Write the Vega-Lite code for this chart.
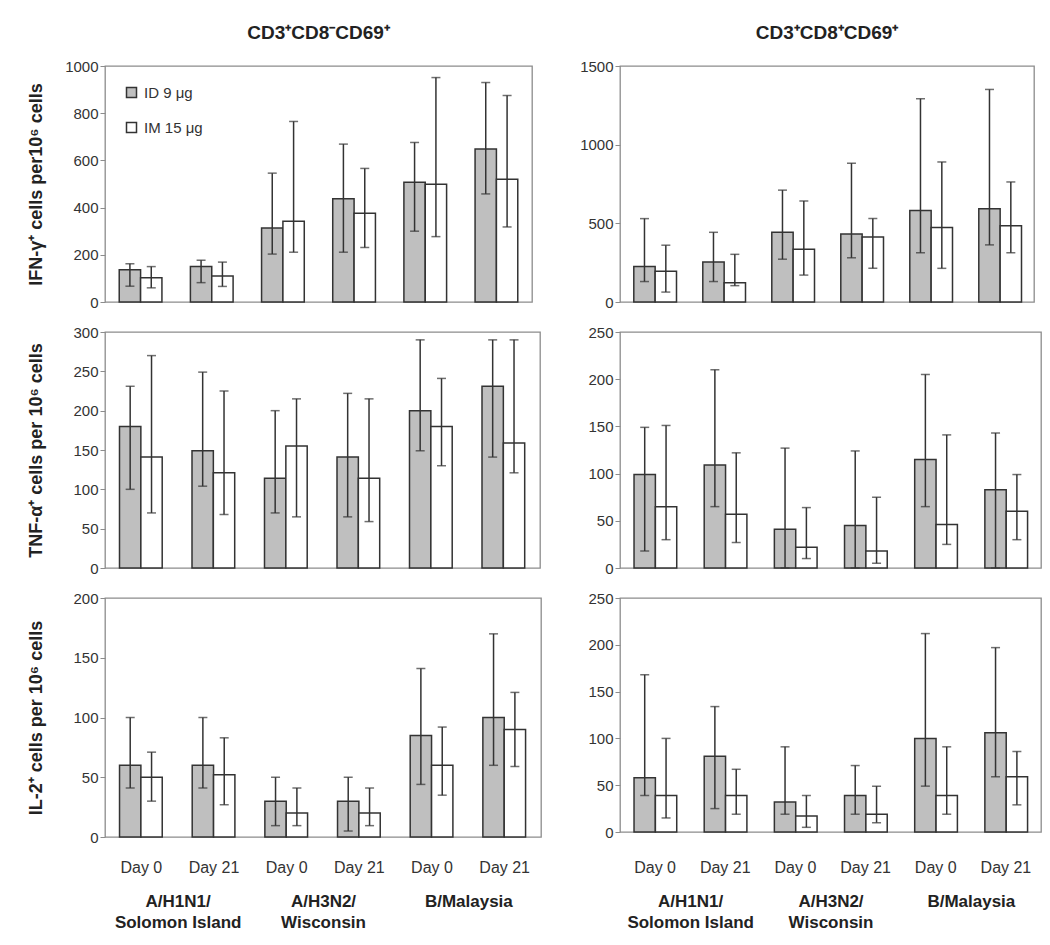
{
  "$schema": "https://vega.github.io/schema/vega-lite/v6.json",
  "padding": {"top": 23, "left": 26, "right": 5, "bottom": 5},
  "background": "#ffffff",
  "data": {"values": [
    {"panel":"IFN_L","strain":"A/H1N1/|Solomon Island","cat":"H1N1 Day 0","day":"Day 0","grp":"ID 9 μg","val":137,"lo":67,"hi":162},
    {"panel":"IFN_L","strain":"A/H1N1/|Solomon Island","cat":"H1N1 Day 0","day":"Day 0","grp":"IM 15 μg","val":103,"lo":60,"hi":150},
    {"panel":"IFN_L","strain":"A/H1N1/|Solomon Island","cat":"H1N1 Day 21","day":"Day 21","grp":"ID 9 μg","val":150,"lo":82,"hi":177},
    {"panel":"IFN_L","strain":"A/H1N1/|Solomon Island","cat":"H1N1 Day 21","day":"Day 21","grp":"IM 15 μg","val":110,"lo":66,"hi":169},
    {"panel":"IFN_L","strain":"A/H3N2/|Wisconsin","cat":"H3N2 Day 0","day":"Day 0","grp":"ID 9 μg","val":314,"lo":203,"hi":546},
    {"panel":"IFN_L","strain":"A/H3N2/|Wisconsin","cat":"H3N2 Day 0","day":"Day 0","grp":"IM 15 μg","val":342,"lo":211,"hi":765},
    {"panel":"IFN_L","strain":"A/H3N2/|Wisconsin","cat":"H3N2 Day 21","day":"Day 21","grp":"ID 9 μg","val":437,"lo":211,"hi":669},
    {"panel":"IFN_L","strain":"A/H3N2/|Wisconsin","cat":"H3N2 Day 21","day":"Day 21","grp":"IM 15 μg","val":376,"lo":231,"hi":566},
    {"panel":"IFN_L","strain":"B/Malaysia","cat":"B Day 0","day":"Day 0","grp":"ID 9 μg","val":507,"lo":300,"hi":676},
    {"panel":"IFN_L","strain":"B/Malaysia","cat":"B Day 0","day":"Day 0","grp":"IM 15 μg","val":499,"lo":277,"hi":951},
    {"panel":"IFN_L","strain":"B/Malaysia","cat":"B Day 21","day":"Day 21","grp":"ID 9 μg","val":648,"lo":458,"hi":930},
    {"panel":"IFN_L","strain":"B/Malaysia","cat":"B Day 21","day":"Day 21","grp":"IM 15 μg","val":520,"lo":318,"hi":875},

    {"panel":"IFN_R","strain":"A/H1N1/|Solomon Island","cat":"H1N1 Day 0","day":"Day 0","grp":"ID 9 μg","val":225,"lo":130,"hi":530},
    {"panel":"IFN_R","strain":"A/H1N1/|Solomon Island","cat":"H1N1 Day 0","day":"Day 0","grp":"IM 15 μg","val":195,"lo":63,"hi":361},
    {"panel":"IFN_R","strain":"A/H1N1/|Solomon Island","cat":"H1N1 Day 21","day":"Day 21","grp":"ID 9 μg","val":255,"lo":130,"hi":443},
    {"panel":"IFN_R","strain":"A/H1N1/|Solomon Island","cat":"H1N1 Day 21","day":"Day 21","grp":"IM 15 μg","val":123,"lo":104,"hi":303},
    {"panel":"IFN_R","strain":"A/H3N2/|Wisconsin","cat":"H3N2 Day 0","day":"Day 0","grp":"ID 9 μg","val":443,"lo":272,"hi":711},
    {"panel":"IFN_R","strain":"A/H3N2/|Wisconsin","cat":"H3N2 Day 0","day":"Day 0","grp":"IM 15 μg","val":335,"lo":171,"hi":642},
    {"panel":"IFN_R","strain":"A/H3N2/|Wisconsin","cat":"H3N2 Day 21","day":"Day 21","grp":"ID 9 μg","val":432,"lo":281,"hi":882},
    {"panel":"IFN_R","strain":"A/H3N2/|Wisconsin","cat":"H3N2 Day 21","day":"Day 21","grp":"IM 15 μg","val":413,"lo":214,"hi":530},
    {"panel":"IFN_R","strain":"B/Malaysia","cat":"B Day 0","day":"Day 0","grp":"ID 9 μg","val":581,"lo":313,"hi":1292},
    {"panel":"IFN_R","strain":"B/Malaysia","cat":"B Day 0","day":"Day 0","grp":"IM 15 μg","val":473,"lo":214,"hi":890},
    {"panel":"IFN_R","strain":"B/Malaysia","cat":"B Day 21","day":"Day 21","grp":"ID 9 μg","val":592,"lo":363,"hi":1351},
    {"panel":"IFN_R","strain":"B/Malaysia","cat":"B Day 21","day":"Day 21","grp":"IM 15 μg","val":484,"lo":313,"hi":763},

    {"panel":"TNF_L","strain":"A/H1N1/|Solomon Island","cat":"H1N1 Day 0","day":"Day 0","grp":"ID 9 μg","val":180,"lo":100,"hi":231},
    {"panel":"TNF_L","strain":"A/H1N1/|Solomon Island","cat":"H1N1 Day 0","day":"Day 0","grp":"IM 15 μg","val":141,"lo":70,"hi":270},
    {"panel":"TNF_L","strain":"A/H1N1/|Solomon Island","cat":"H1N1 Day 21","day":"Day 21","grp":"ID 9 μg","val":149,"lo":104,"hi":249},
    {"panel":"TNF_L","strain":"A/H1N1/|Solomon Island","cat":"H1N1 Day 21","day":"Day 21","grp":"IM 15 μg","val":121,"lo":68,"hi":225},
    {"panel":"TNF_L","strain":"A/H3N2/|Wisconsin","cat":"H3N2 Day 0","day":"Day 0","grp":"ID 9 μg","val":114,"lo":70,"hi":200},
    {"panel":"TNF_L","strain":"A/H3N2/|Wisconsin","cat":"H3N2 Day 0","day":"Day 0","grp":"IM 15 μg","val":155,"lo":65,"hi":215},
    {"panel":"TNF_L","strain":"A/H3N2/|Wisconsin","cat":"H3N2 Day 21","day":"Day 21","grp":"ID 9 μg","val":141,"lo":65,"hi":222},
    {"panel":"TNF_L","strain":"A/H3N2/|Wisconsin","cat":"H3N2 Day 21","day":"Day 21","grp":"IM 15 μg","val":114,"lo":59,"hi":215},
    {"panel":"TNF_L","strain":"B/Malaysia","cat":"B Day 0","day":"Day 0","grp":"ID 9 μg","val":200,"lo":149,"hi":290},
    {"panel":"TNF_L","strain":"B/Malaysia","cat":"B Day 0","day":"Day 0","grp":"IM 15 μg","val":180,"lo":130,"hi":241},
    {"panel":"TNF_L","strain":"B/Malaysia","cat":"B Day 21","day":"Day 21","grp":"ID 9 μg","val":231,"lo":141,"hi":290},
    {"panel":"TNF_L","strain":"B/Malaysia","cat":"B Day 21","day":"Day 21","grp":"IM 15 μg","val":159,"lo":121,"hi":290},

    {"panel":"TNF_R","strain":"A/H1N1/|Solomon Island","cat":"H1N1 Day 0","day":"Day 0","grp":"ID 9 μg","val":99,"lo":18,"hi":149},
    {"panel":"TNF_R","strain":"A/H1N1/|Solomon Island","cat":"H1N1 Day 0","day":"Day 0","grp":"IM 15 μg","val":65,"lo":30,"hi":151},
    {"panel":"TNF_R","strain":"A/H1N1/|Solomon Island","cat":"H1N1 Day 21","day":"Day 21","grp":"ID 9 μg","val":109,"lo":65,"hi":210},
    {"panel":"TNF_R","strain":"A/H1N1/|Solomon Island","cat":"H1N1 Day 21","day":"Day 21","grp":"IM 15 μg","val":57,"lo":27,"hi":122},
    {"panel":"TNF_R","strain":"A/H3N2/|Wisconsin","cat":"H3N2 Day 0","day":"Day 0","grp":"ID 9 μg","val":41,"lo":0,"hi":127},
    {"panel":"TNF_R","strain":"A/H3N2/|Wisconsin","cat":"H3N2 Day 0","day":"Day 0","grp":"IM 15 μg","val":22,"lo":10,"hi":64},
    {"panel":"TNF_R","strain":"A/H3N2/|Wisconsin","cat":"H3N2 Day 21","day":"Day 21","grp":"ID 9 μg","val":45,"lo":0,"hi":124},
    {"panel":"TNF_R","strain":"A/H3N2/|Wisconsin","cat":"H3N2 Day 21","day":"Day 21","grp":"IM 15 μg","val":18,"lo":5,"hi":75},
    {"panel":"TNF_R","strain":"B/Malaysia","cat":"B Day 0","day":"Day 0","grp":"ID 9 μg","val":115,"lo":65,"hi":205},
    {"panel":"TNF_R","strain":"B/Malaysia","cat":"B Day 0","day":"Day 0","grp":"IM 15 μg","val":46,"lo":25,"hi":141},
    {"panel":"TNF_R","strain":"B/Malaysia","cat":"B Day 21","day":"Day 21","grp":"ID 9 μg","val":83,"lo":0,"hi":143},
    {"panel":"TNF_R","strain":"B/Malaysia","cat":"B Day 21","day":"Day 21","grp":"IM 15 μg","val":60,"lo":30,"hi":99},

    {"panel":"IL2_L","strain":"A/H1N1/|Solomon Island","cat":"H1N1 Day 0","day":"Day 0","grp":"ID 9 μg","val":60,"lo":41,"hi":100},
    {"panel":"IL2_L","strain":"A/H1N1/|Solomon Island","cat":"H1N1 Day 0","day":"Day 0","grp":"IM 15 μg","val":50,"lo":30,"hi":71},
    {"panel":"IL2_L","strain":"A/H1N1/|Solomon Island","cat":"H1N1 Day 21","day":"Day 21","grp":"ID 9 μg","val":60,"lo":41,"hi":100},
    {"panel":"IL2_L","strain":"A/H1N1/|Solomon Island","cat":"H1N1 Day 21","day":"Day 21","grp":"IM 15 μg","val":52,"lo":27,"hi":83},
    {"panel":"IL2_L","strain":"A/H3N2/|Wisconsin","cat":"H3N2 Day 0","day":"Day 0","grp":"ID 9 μg","val":30,"lo":9.5,"hi":50},
    {"panel":"IL2_L","strain":"A/H3N2/|Wisconsin","cat":"H3N2 Day 0","day":"Day 0","grp":"IM 15 μg","val":20,"lo":9.5,"hi":41},
    {"panel":"IL2_L","strain":"A/H3N2/|Wisconsin","cat":"H3N2 Day 21","day":"Day 21","grp":"ID 9 μg","val":30,"lo":5,"hi":50},
    {"panel":"IL2_L","strain":"A/H3N2/|Wisconsin","cat":"H3N2 Day 21","day":"Day 21","grp":"IM 15 μg","val":20,"lo":9.5,"hi":41},
    {"panel":"IL2_L","strain":"B/Malaysia","cat":"B Day 0","day":"Day 0","grp":"ID 9 μg","val":85,"lo":44,"hi":141},
    {"panel":"IL2_L","strain":"B/Malaysia","cat":"B Day 0","day":"Day 0","grp":"IM 15 μg","val":60,"lo":35,"hi":92},
    {"panel":"IL2_L","strain":"B/Malaysia","cat":"B Day 21","day":"Day 21","grp":"ID 9 μg","val":100,"lo":60,"hi":170},
    {"panel":"IL2_L","strain":"B/Malaysia","cat":"B Day 21","day":"Day 21","grp":"IM 15 μg","val":90,"lo":59,"hi":121},

    {"panel":"IL2_R","strain":"A/H1N1/|Solomon Island","cat":"H1N1 Day 0","day":"Day 0","grp":"ID 9 μg","val":58,"lo":39,"hi":168},
    {"panel":"IL2_R","strain":"A/H1N1/|Solomon Island","cat":"H1N1 Day 0","day":"Day 0","grp":"IM 15 μg","val":39,"lo":15,"hi":100},
    {"panel":"IL2_R","strain":"A/H1N1/|Solomon Island","cat":"H1N1 Day 21","day":"Day 21","grp":"ID 9 μg","val":81,"lo":25,"hi":134},
    {"panel":"IL2_R","strain":"A/H1N1/|Solomon Island","cat":"H1N1 Day 21","day":"Day 21","grp":"IM 15 μg","val":39,"lo":19,"hi":67},
    {"panel":"IL2_R","strain":"A/H3N2/|Wisconsin","cat":"H3N2 Day 0","day":"Day 0","grp":"ID 9 μg","val":32,"lo":19,"hi":91},
    {"panel":"IL2_R","strain":"A/H3N2/|Wisconsin","cat":"H3N2 Day 0","day":"Day 0","grp":"IM 15 μg","val":17,"lo":5,"hi":39},
    {"panel":"IL2_R","strain":"A/H3N2/|Wisconsin","cat":"H3N2 Day 21","day":"Day 21","grp":"ID 9 μg","val":39,"lo":19,"hi":71},
    {"panel":"IL2_R","strain":"A/H3N2/|Wisconsin","cat":"H3N2 Day 21","day":"Day 21","grp":"IM 15 μg","val":19,"lo":10,"hi":49},
    {"panel":"IL2_R","strain":"B/Malaysia","cat":"B Day 0","day":"Day 0","grp":"ID 9 μg","val":100,"lo":49,"hi":212},
    {"panel":"IL2_R","strain":"B/Malaysia","cat":"B Day 0","day":"Day 0","grp":"IM 15 μg","val":39,"lo":19,"hi":91},
    {"panel":"IL2_R","strain":"B/Malaysia","cat":"B Day 21","day":"Day 21","grp":"ID 9 μg","val":106,"lo":59,"hi":197},
    {"panel":"IL2_R","strain":"B/Malaysia","cat":"B Day 21","day":"Day 21","grp":"IM 15 μg","val":59,"lo":29,"hi":86}
  ]},
  "columns": 2,
  "spacing": {"row": 13, "column": 36},
  "align": "each",
  "resolve": {"scale": {"fill": "independent", "x": "independent", "y": "independent"}, "legend": {"fill": "independent"}},
  "concat": [
    {
      "width": 427, "height": 236,
      "title": {"text": "CD3⁺CD8⁻CD69⁺", "frame": "group", "offset": 16},
      "transform": [{"filter": "datum.panel === 'IFN_L'"}],
      "encoding": {
        "x": {"field": "cat", "type": "nominal", "sort": ["H1N1 Day 0","H1N1 Day 21","H3N2 Day 0","H3N2 Day 21","B Day 0","B Day 21"], "scale": {"paddingInner": 0.4, "paddingOuter": 0.2}, "axis": null},
        "xOffset": {"field": "grp", "type": "nominal", "sort": ["ID 9 μg", "IM 15 μg"]}
      },
      "layer": [
        {"mark": {"type": "bar", "stroke": "#333333", "strokeWidth": 1.5},
         "encoding": {
           "y": {"field": "val", "type": "quantitative", "scale": {"domain": [0, 1000], "nice": false}, "axis": {"values": [0,200,400,600,800,1000], "title": "IFN-γ⁺ cells per10⁶ cells", "minExtent": 50, "maxExtent": 50, "titlePadding": 10}},
           "fill": {"field": "grp", "type": "nominal", "scale": {"domain": ["ID 9 μg", "IM 15 μg"], "range": ["#bfbfbf", "#ffffff"]},
                    "legend": {"orient": "top-left", "title": null, "offset": 18, "padding": 1, "symbolType": "square", "symbolSize": 100, "symbolStrokeColor": "#333333", "symbolStrokeWidth": 1.5, "labelFontSize": 15, "labelColor": "#333333", "rowPadding": 18, "labelOffset": 5}}
         }},
        {"mark": {"type": "rule", "color": "#333333", "strokeWidth": 1.5}, "encoding": {"y": {"field": "lo", "type": "quantitative"}, "y2": {"field": "hi"}}},
        {"mark": {"type": "tick", "color": "#333333", "thickness": 1.5, "size": 9}, "encoding": {"y": {"field": "hi", "type": "quantitative"}}},
        {"mark": {"type": "tick", "color": "#333333", "thickness": 1.5, "size": 9}, "encoding": {"y": {"field": "lo", "type": "quantitative"}}}
      ]
    },
    {
      "width": 414, "height": 236,
      "title": {"text": "CD3⁺CD8⁺CD69⁺", "frame": "group", "offset": 16},
      "transform": [{"filter": "datum.panel === 'IFN_R'"}],
      "encoding": {
        "x": {"field": "cat", "type": "nominal", "sort": ["H1N1 Day 0","H1N1 Day 21","H3N2 Day 0","H3N2 Day 21","B Day 0","B Day 21"], "scale": {"paddingInner": 0.4, "paddingOuter": 0.2}, "axis": null},
        "xOffset": {"field": "grp", "type": "nominal", "sort": ["ID 9 μg", "IM 15 μg"]}
      },
      "layer": [
        {"mark": {"type": "bar", "stroke": "#333333", "strokeWidth": 1.5},
         "encoding": {
           "y": {"field": "val", "type": "quantitative", "scale": {"domain": [0, 1500], "nice": false}, "axis": {"values": [0,500,1000,1500], "title": null}},
           "fill": {"field": "grp", "type": "nominal", "scale": {"domain": ["ID 9 μg", "IM 15 μg"], "range": ["#bfbfbf", "#ffffff"]}, "legend": null}
         }},
        {"mark": {"type": "rule", "color": "#333333", "strokeWidth": 1.5}, "encoding": {"y": {"field": "lo", "type": "quantitative"}, "y2": {"field": "hi"}}},
        {"mark": {"type": "tick", "color": "#333333", "thickness": 1.5, "size": 9}, "encoding": {"y": {"field": "hi", "type": "quantitative"}}},
        {"mark": {"type": "tick", "color": "#333333", "thickness": 1.5, "size": 9}, "encoding": {"y": {"field": "lo", "type": "quantitative"}}}
      ]
    },
    {
      "width": 435, "height": 236,
      "transform": [{"filter": "datum.panel === 'TNF_L'"}],
      "encoding": {
        "x": {"field": "cat", "type": "nominal", "sort": ["H1N1 Day 0","H1N1 Day 21","H3N2 Day 0","H3N2 Day 21","B Day 0","B Day 21"], "scale": {"paddingInner": 0.4, "paddingOuter": 0.2}, "axis": null},
        "xOffset": {"field": "grp", "type": "nominal", "sort": ["ID 9 μg", "IM 15 μg"]}
      },
      "layer": [
        {"mark": {"type": "bar", "stroke": "#333333", "strokeWidth": 1.5},
         "encoding": {
           "y": {"field": "val", "type": "quantitative", "scale": {"domain": [0, 300], "nice": false}, "axis": {"values": [0,50,100,150,200,250,300], "tickCount": 7, "labelOverlap": false, "title": "TNF-α⁺ cells per 10⁶ cells", "minExtent": 50, "maxExtent": 50, "titlePadding": 10}},
           "fill": {"field": "grp", "type": "nominal", "scale": {"domain": ["ID 9 μg", "IM 15 μg"], "range": ["#bfbfbf", "#ffffff"]}, "legend": null}
         }},
        {"mark": {"type": "rule", "color": "#333333", "strokeWidth": 1.5}, "encoding": {"y": {"field": "lo", "type": "quantitative", "axis": {"values": [0,50,100,150,200,250,300], "tickCount": 7, "labelOverlap": false, "title": "TNF-α⁺ cells per 10⁶ cells", "minExtent": 50, "maxExtent": 50, "titlePadding": 10}}, "y2": {"field": "hi"}}},
        {"mark": {"type": "tick", "color": "#333333", "thickness": 1.5, "size": 9}, "encoding": {"y": {"field": "hi", "type": "quantitative", "axis": {"values": [0,50,100,150,200,250,300], "tickCount": 7, "labelOverlap": false, "title": "TNF-α⁺ cells per 10⁶ cells", "minExtent": 50, "maxExtent": 50, "titlePadding": 10}}}},
        {"mark": {"type": "tick", "color": "#333333", "thickness": 1.5, "size": 9}, "encoding": {"y": {"field": "lo", "type": "quantitative", "axis": {"values": [0,50,100,150,200,250,300], "tickCount": 7, "labelOverlap": false, "title": "TNF-α⁺ cells per 10⁶ cells", "minExtent": 50, "maxExtent": 50, "titlePadding": 10}}}}
      ]
    },
    {
      "width": 421, "height": 236,
      "transform": [{"filter": "datum.panel === 'TNF_R'"}],
      "encoding": {
        "x": {"field": "cat", "type": "nominal", "sort": ["H1N1 Day 0","H1N1 Day 21","H3N2 Day 0","H3N2 Day 21","B Day 0","B Day 21"], "scale": {"paddingInner": 0.4, "paddingOuter": 0.2}, "axis": null},
        "xOffset": {"field": "grp", "type": "nominal", "sort": ["ID 9 μg", "IM 15 μg"]}
      },
      "layer": [
        {"mark": {"type": "bar", "stroke": "#333333", "strokeWidth": 1.5},
         "encoding": {
           "y": {"field": "val", "type": "quantitative", "scale": {"domain": [0, 250], "nice": false}, "axis": {"values": [0,50,100,150,200,250], "title": null}},
           "fill": {"field": "grp", "type": "nominal", "scale": {"domain": ["ID 9 μg", "IM 15 μg"], "range": ["#bfbfbf", "#ffffff"]}, "legend": null}
         }},
        {"mark": {"type": "rule", "color": "#333333", "strokeWidth": 1.5}, "encoding": {"y": {"field": "lo", "type": "quantitative"}, "y2": {"field": "hi"}}},
        {"mark": {"type": "tick", "color": "#333333", "thickness": 1.5, "size": 9}, "encoding": {"y": {"field": "hi", "type": "quantitative"}}},
        {"mark": {"type": "tick", "color": "#333333", "thickness": 1.5, "size": 9}, "encoding": {"y": {"field": "lo", "type": "quantitative"}}}
      ]
    },
    {
      "width": 436, "height": 239,
      "transform": [{"filter": "datum.panel === 'IL2_L'"}],
      "layer": [
        {
          "encoding": {
            "x": {"field": "cat", "type": "nominal", "sort": ["H1N1 Day 0","H1N1 Day 21","H3N2 Day 0","H3N2 Day 21","B Day 0","B Day 21"], "scale": {"paddingInner": 0.4, "paddingOuter": 0.2},
                  "axis": {"labelExpr": "indexof(datum.label, 'Day 21') >= 0 ? 'Day 21' : 'Day 0'", "ticks": false, "tickSize": 0, "domain": false, "labelPadding": 22, "title": null, "labelAngle": 0, "labelFontSize": 16}},
            "xOffset": {"field": "grp", "type": "nominal", "sort": ["ID 9 μg", "IM 15 μg"]}
          },
          "layer": [
            {"mark": {"type": "bar", "stroke": "#333333", "strokeWidth": 1.5},
             "encoding": {
               "y": {"field": "val", "type": "quantitative", "scale": {"domain": [0, 200], "nice": false}, "axis": {"values": [0,50,100,150,200], "title": "IL-2⁺ cells per 10⁶ cells", "minExtent": 50, "maxExtent": 50, "titlePadding": 10}},
               "fill": {"field": "grp", "type": "nominal", "scale": {"domain": ["ID 9 μg", "IM 15 μg"], "range": ["#bfbfbf", "#ffffff"]}, "legend": null}
             }},
            {"mark": {"type": "rule", "color": "#333333", "strokeWidth": 1.5}, "encoding": {"y": {"field": "lo", "type": "quantitative"}, "y2": {"field": "hi"}}},
            {"mark": {"type": "tick", "color": "#333333", "thickness": 1.5, "size": 9}, "encoding": {"y": {"field": "hi", "type": "quantitative"}}},
            {"mark": {"type": "tick", "color": "#333333", "thickness": 1.5, "size": 9}, "encoding": {"y": {"field": "lo", "type": "quantitative"}}}
          ]
        },
        {
          "transform": [{"filter": "datum.grp === 'ID 9 μg' && datum.day === 'Day 0'"}],
          "mark": {"type": "point", "opacity": 0},
          "encoding": {
            "x": {"field": "strain", "type": "nominal", "sort": ["A/H1N1/|Solomon Island", "A/H3N2/|Wisconsin", "B/Malaysia"], "scale": {"type": "point", "padding": 0.5},
                  "axis": {"orient": "bottom", "offset": 36, "labelPadding": 20, "ticks": false, "tickSize": 0, "domain": false, "title": null, "labelAngle": 0, "labelFontWeight": "bold", "labelFontSize": 17, "labelColor": "#222222", "labelLineHeight": 21, "labelExpr": "split(datum.label, '|')"}},
            "y": {"datum": 0, "type": "quantitative"}
          }
        }
      ],
      "resolve": {"scale": {"x": "independent"}, "axis": {"x": "independent"}}
    },
    {
      "width": 421, "height": 234,
      "transform": [{"filter": "datum.panel === 'IL2_R'"}],
      "layer": [
        {
          "encoding": {
            "x": {"field": "cat", "type": "nominal", "sort": ["H1N1 Day 0","H1N1 Day 21","H3N2 Day 0","H3N2 Day 21","B Day 0","B Day 21"], "scale": {"paddingInner": 0.4, "paddingOuter": 0.2},
                  "axis": {"labelExpr": "indexof(datum.label, 'Day 21') >= 0 ? 'Day 21' : 'Day 0'", "ticks": false, "tickSize": 0, "domain": false, "labelPadding": 27, "title": null, "labelAngle": 0, "labelFontSize": 16}},
            "xOffset": {"field": "grp", "type": "nominal", "sort": ["ID 9 μg", "IM 15 μg"]}
          },
          "layer": [
            {"mark": {"type": "bar", "stroke": "#333333", "strokeWidth": 1.5},
             "encoding": {
               "y": {"field": "val", "type": "quantitative", "scale": {"domain": [0, 250], "nice": false}, "axis": {"values": [0,50,100,150,200,250], "title": null}},
               "fill": {"field": "grp", "type": "nominal", "scale": {"domain": ["ID 9 μg", "IM 15 μg"], "range": ["#bfbfbf", "#ffffff"]}, "legend": null}
             }},
            {"mark": {"type": "rule", "color": "#333333", "strokeWidth": 1.5}, "encoding": {"y": {"field": "lo", "type": "quantitative"}, "y2": {"field": "hi"}}},
            {"mark": {"type": "tick", "color": "#333333", "thickness": 1.5, "size": 9}, "encoding": {"y": {"field": "hi", "type": "quantitative"}}},
            {"mark": {"type": "tick", "color": "#333333", "thickness": 1.5, "size": 9}, "encoding": {"y": {"field": "lo", "type": "quantitative"}}}
          ]
        },
        {
          "transform": [{"filter": "datum.grp === 'ID 9 μg' && datum.day === 'Day 0'"}],
          "mark": {"type": "point", "opacity": 0},
          "encoding": {
            "x": {"field": "strain", "type": "nominal", "sort": ["A/H1N1/|Solomon Island", "A/H3N2/|Wisconsin", "B/Malaysia"], "scale": {"type": "point", "padding": 0.5},
                  "axis": {"orient": "bottom", "offset": 41, "labelPadding": 20, "ticks": false, "tickSize": 0, "domain": false, "title": null, "labelAngle": 0, "labelFontWeight": "bold", "labelFontSize": 17, "labelColor": "#222222", "labelLineHeight": 21, "labelExpr": "split(datum.label, '|')"}},
            "y": {"datum": 0, "type": "quantitative"}
          }
        }
      ],
      "resolve": {"scale": {"x": "independent"}, "axis": {"x": "independent"}}
    }
  ],
  "config": {
    "font": "Liberation Sans",
    "view": {"stroke": "#8c8c8c", "strokeWidth": 1.3},
    "axis": {"labelFont": "Liberation Sans", "labelFontSize": 15, "labelColor": "#333333", "tickColor": "#8c8c8c", "tickSize": 5, "domain": false, "grid": false, "labelOverlap": false, "format": "d", "titleFont": "Liberation Sans", "titleFontSize": 18, "titleFontWeight": "bold", "titleColor": "#222222"},
    "axisX": {"format": null},
    "title": {"font": "Liberation Sans", "fontSize": 19, "fontWeight": "bold", "color": "#222222"},
    "legend": {"labelFont": "Liberation Sans"}
  }
}
